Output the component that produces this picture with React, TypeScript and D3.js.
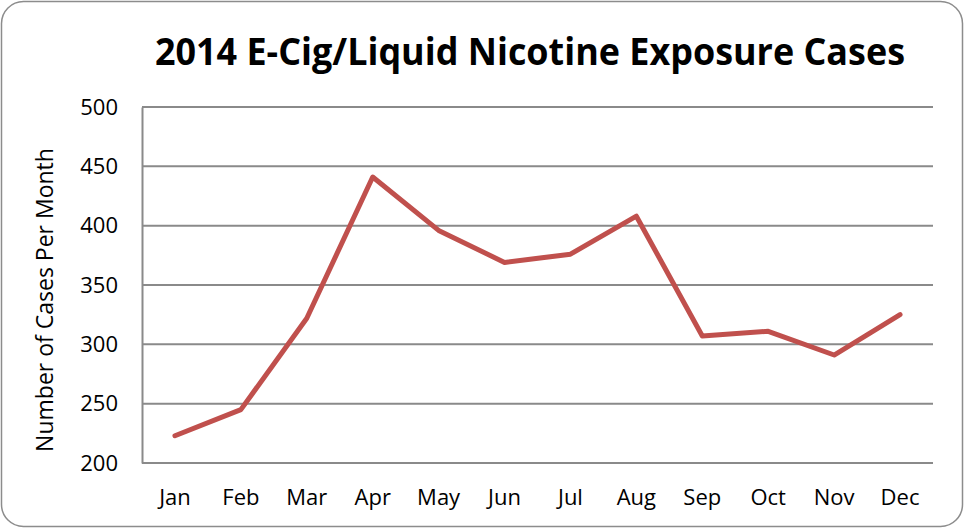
import * as d3 from 'd3'
import React from 'react'

const months = ['Jan', 'Feb', 'Mar', 'Apr', 'May', 'Jun', 'Jul', 'Aug', 'Sep', 'Oct', 'Nov', 'Dec']
const cases = [223, 245, 322, 441, 396, 369, 376, 408, 307, 311, 291, 325]
const yTicks = [200, 250, 300, 350, 400, 450, 500]

const W = 965
const H = 529
const margin = { top: 107, right: 32, bottom: 66, left: 142 }
const font = 'Open Sans, Noto Sans, sans-serif'

export default function App() {
    const svgRef = React.useRef<SVGSVGElement | null>(null)

    React.useEffect(() => {
        const svg = d3.select(svgRef.current)
        svg.selectAll('*').remove()

        const x = d3
            .scaleBand()
            .domain(months)
            .range([margin.left, W - margin.right])

        const y = d3
            .scaleLinear()
            .domain([200, 500])
            .range([H - margin.bottom, margin.top])

        // outer frame
        svg.append('rect')
            .attr('x', 1.5)
            .attr('y', 1.5)
            .attr('width', W - 4)
            .attr('height', H - 4)
            .attr('rx', 22)
            .attr('fill', '#fff')
            .attr('stroke', '#8c8c8c')
            .attr('stroke-width', 1.5)

        // gridlines
        svg.append('g')
            .selectAll('line')
            .data(yTicks)
            .join('line')
            .attr('x1', margin.left)
            .attr('x2', W - margin.right)
            .attr('y1', (d) => y(d))
            .attr('y2', (d) => y(d))
            .attr('stroke', '#8a8a8a')
            .attr('stroke-width', 2)

        // y axis
        const yAxis = svg
            .append('g')
            .attr('transform', `translate(${margin.left},0)`)
            .call(d3.axisLeft(y).tickValues(yTicks).tickSize(0).tickPadding(24))
        yAxis.select('.domain').attr('stroke', '#8a8a8a').attr('stroke-width', 2)
        yAxis.selectAll('text').attr('font-family', font).attr('font-size', 22).attr('fill', '#000')

        // x axis
        const xAxis = svg
            .append('g')
            .attr('transform', `translate(0,${H - margin.bottom})`)
            .call(d3.axisBottom(x).tickSize(0).tickPadding(26))
        xAxis.select('.domain').remove()
        xAxis.selectAll('text').attr('font-family', font).attr('font-size', 22).attr('fill', '#000')

        // line
        const line = d3
            .line<number>()
            .x((d, i) => (x(months[i]) || 0) + x.bandwidth() / 2)
            .y((d) => y(d))

        svg.append('path')
            .datum(cases)
            .attr('d', line)
            .attr('fill', 'none')
            .attr('stroke', '#C0504D')
            .attr('stroke-width', 5)
            .attr('stroke-linecap', 'round')
            .attr('stroke-linejoin', 'round')

        // title
        svg.append('text')
            .attr('x', 530)
            .attr('y', 65)
            .attr('text-anchor', 'middle')
            .attr('font-family', font)
            .attr('font-weight', 'bold')
            .attr('font-size', 38)
            .attr('textLength', 750)
            .attr('lengthAdjust', 'spacingAndGlyphs')
            .attr('fill', '#000')
            .text('2014 E-Cig/Liquid Nicotine Exposure Cases')

        // y label
        svg.append('text')
            .attr('transform', `translate(53,300) rotate(-90)`)
            .attr('text-anchor', 'middle')
            .attr('font-family', font)
            .attr('font-size', 23)
            .attr('fill', '#000')
            .text('Number of Cases Per Month')
    }, [])

    return (
        <svg
            ref={svgRef}
            width={W}
            height={H}
            style={{ position: 'absolute', left: 0, top: 0 }}
        ></svg>
    )
}
